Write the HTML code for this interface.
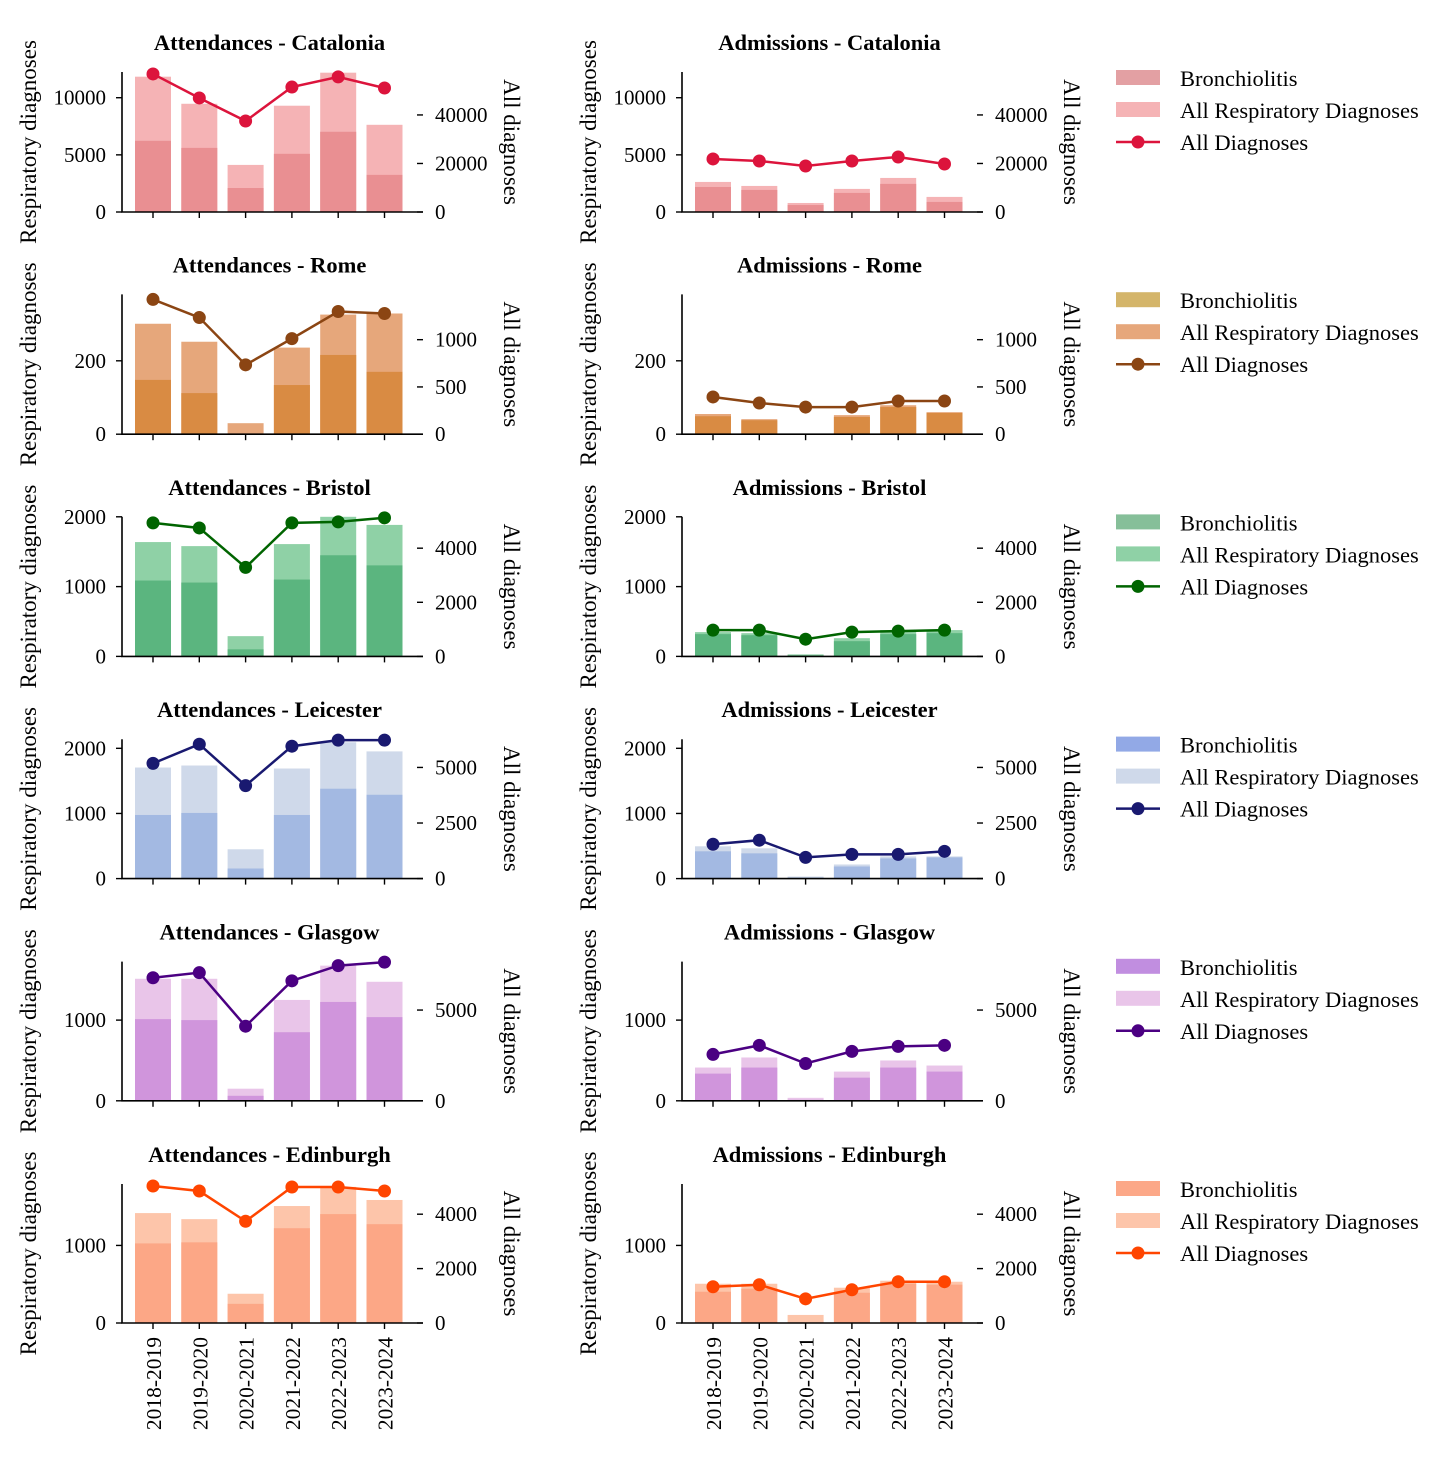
<!DOCTYPE html>
<html><head><meta charset="utf-8"><style>
body{margin:0;background:#fff}
svg{display:block;font-family:"Liberation Serif",serif}
</style></head><body>
<svg id="c" width="1456" height="1458" viewBox="0 0 1456 1458" xmlns="http://www.w3.org/2000/svg"></svg>
<script>
const categories=["2018-2019","2019-2020","2020-2021","2021-2022","2022-2023","2023-2024"];
const cities=["Catalonia","Rome","Bristol","Leicester","Glasgow","Edinburgh"];
const attResp=[[11840,9470,4120,9300,12190,7630],[301,252,30,236,326,329],[1638,1580,290,1609,2000,1884],[1705,1736,450,1690,2093,1953],[1512,1512,150,1250,1675,1475],[1417,1339,377,1508,1755,1586]];
const attBron=[[6230,5610,2100,5090,7020,3250],[148,112,0,134,216,170],[1087,1058,101,1101,1449,1304],[977,1008,155,977,1380,1287],[1012,1000,62,850,1225,1037],[1026,1040,247,1222,1404,1274]];
const attAll=[[56900,47000,37500,51500,55700,51100],[1426,1234,734,1011,1298,1277],[4935,4748,3290,4935,4972,5122],[5182,6045,4182,5955,6227,6227],[6780,7060,4110,6610,7450,7640],[5037,4852,3740,5000,5000,4852]];
const admResp=[[2630,2280,790,2020,2980,1320],[55,41,0,52,79,60],[348,333,29,261,377,377],[496,465,31,217,341,341],[412,537,37,362,500,437],[506,506,104,455,545,532]];
const admBron=[[2190,1930,610,1670,2460,880],[49,38,0,47,74,58],[319,304,15,218,319,333],[419,388,15,186,310,326],[337,412,12,287,412,362],[403,442,0,390,507,494]];
const admAll=[[21860,21030,18970,21030,22680,19790],[394,330,287,287,351,351],[972,972,636,897,935,972],[1545,1727,955,1091,1091,1227],[2556,3056,2056,2722,3000,3056],[1333,1407,889,1222,1518,1518]];
const leftMax=[12250,381,2000,2140,1725,1792];
const rightMax=[57700,1479,5160,6270,7670,5110];
const leftTicks=[[0,5000,10000],[0,200],[0,1000,2000],[0,1000,2000],[0,1000],[0,1000]];
const rightTicks=[[0,20000,40000],[0,500,1000],[0,2000,4000],[0,2500,5000],[0,5000],[0,2000,4000]];
const colors=[
 {resp:"#f5b3b5",bron:"#e98f92",line:"#dc143c",lb:"#e3a0a3"},
 {resp:"#e6a77b",bron:"#d98b43",line:"#8b4513",lb:"#d4b56a"},
 {resp:"#8fd1a6",bron:"#5bb57f",line:"#006400",lb:"#86bf99"},
 {resp:"#cfd9ea",bron:"#a3b9e2",line:"#191970",lb:"#92a9e6"},
 {resp:"#e9c5e9",bron:"#d095dc",line:"#4b0082",lb:"#c18ee0"},
 {resp:"#fdc5aa",bron:"#fca786",line:"#ff4500",lb:"#fca888"}];
const svg=document.getElementById('c');
const NS="http://www.w3.org/2000/svg";
function mk(t,a,txt){const e=document.createElementNS(NS,t);for(const k in a)e.setAttribute(k,a[k]);if(txt!==undefined)e.textContent=txt;svg.appendChild(e);return e;}
for(let r=0;r<6;r++){
 const top=72+r*222.4, bot=212+r*222.2;
 const yl=v=>bot-(v/leftMax[r])*(bot-top);
 const yr=v=>bot-(v/rightMax[r])*(bot-top);
 for(let c=0;c<2;c++){
  const off=c*560, L=122+off, R=423+off;
  const xs=i=>153+off+i*46.3;
  const resp=c?admResp[r]:attResp[r], bron=c?admBron[r]:attBron[r], all=c?admAll[r]:attAll[r];
  const kind=c?"admissions":"attendances";
  const col=colors[r];
  let t=mk('text',{x:(L+R)/2-3,y:top-22,'text-anchor':'middle','font-size':22.5,'font-weight':'bold'},(c?"Admissions - ":"Attendances - ")+cities[r]);
  
  
  for(let i=0;i<6;i++){
   let b=mk('rect',{x:xs(i)-18,y:yl(resp[i]),width:36,height:bot-yl(resp[i]),fill:col.resp});
   
   
   let b2=mk('rect',{x:xs(i)-18,y:yl(bron[i]),width:36,height:bot-yl(bron[i]),fill:col.bron});
   
   
  }
  let p=mk('polyline',{points:all.map((v,i)=>xs(i)+','+yr(v)).join(' '),fill:'none',stroke:col.line,'stroke-width':2.5});
  
  
  for(let i=0;i<6;i++){
   let d=mk('circle',{cx:xs(i),cy:yr(all[i]),r:6.5,fill:col.line});
   
   
  }
  let ax=mk('path',{d:`M${L},${top} V${bot} H${R}`,fill:'none',stroke:'#000','stroke-width':1.6});
  
  
  for(let i=0;i<6;i++){mk('line',{x1:xs(i),x2:xs(i),y1:bot,y2:bot+6,stroke:'#000','stroke-width':1.4});}
  leftTicks[r].forEach(v=>{const y=yl(v);mk('line',{x1:L-6,x2:L,y1:y,y2:y,stroke:'#000','stroke-width':1.4});
   let tl=mk('text',{x:L-16,y:y+7,'text-anchor':'end','font-size':21},String(v));
   
   });
  rightTicks[r].forEach(v=>{const y=yr(v);mk('line',{x1:R-6,x2:R,y1:y,y2:y,stroke:'#000','stroke-width':1.4});
   let tl=mk('text',{x:R+12,y:y+7,'font-size':21},String(v));
   
   });
  const my=(top+bot)/2;
  let ylab=mk('text',{x:0,y:0,'text-anchor':'middle','font-size':23,transform:`translate(${36+off},${my}) rotate(-90)`},'Respiratory diagnoses');
  
  
  let ylab2=mk('text',{x:0,y:0,'text-anchor':'middle','font-size':23,transform:`translate(${504+off},${my}) rotate(90)`},'All diagnoses');
  
  
  if(r===5){for(let i=0;i<6;i++){
   let xl=mk('text',{x:0,y:0,'text-anchor':'end','font-size':21.5,transform:`translate(${xs(i)+8},${bot+14}) rotate(-90)`},categories[i]);
   
   }}
 }
 const col=colors[r], ly=78+r*222.2;
 let l1=mk('rect',{x:1116,y:ly-8,width:44,height:15,fill:col.lb});
 
 
 mk('text',{x:1180,y:ly+8,'font-size':22.5},'Bronchiolitis');
 let l2=mk('rect',{x:1116,y:ly+24,width:44,height:15,fill:col.resp});
 
 
 mk('text',{x:1180,y:ly+40,'font-size':22.5},'All Respiratory Diagnoses');
 mk('line',{x1:1116,x2:1160,y1:ly+64,y2:ly+64,stroke:col.line,'stroke-width':2.5});
 let l3=mk('circle',{cx:1138,cy:ly+64,r:6.5,fill:col.line});
 
 
 mk('text',{x:1180,y:ly+72,'font-size':22.5},'All Diagnoses');
}
</script>
</body></html>
